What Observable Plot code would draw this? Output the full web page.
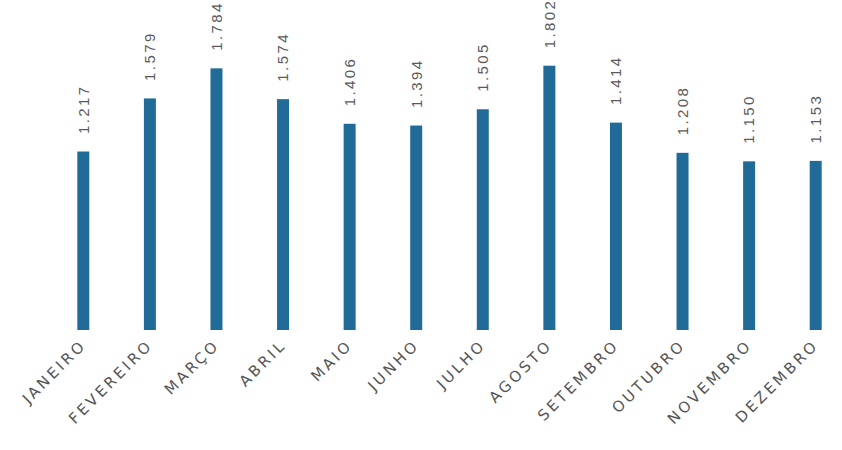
<!DOCTYPE html>
<html>
<head>
<meta charset="utf-8">
<script src="https://cdn.jsdelivr.net/npm/d3@7"></script>
<script src="https://cdn.jsdelivr.net/npm/@observablehq/plot@0.6"></script>
<style>
  html, body { margin: 0; padding: 0; background: #fff; }
  #chart svg { display: block; }
  #chart svg g[aria-label="x-axis tick label"] text {
    letter-spacing: 3px;
  }
  #chart svg g[aria-label="text"] text {
    letter-spacing: 2.4px;
  }
</style>
</head>
<body>
<div id="chart"></div>
<script>
const months = ["JANEIRO", "FEVEREIRO", "MARÇO", "ABRIL", "MAIO", "JUNHO", "JULHO", "AGOSTO", "SETEMBRO", "OUTUBRO", "NOVEMBRO", "DEZEMBRO"];
const values = [1217, 1579, 1784, 1574, 1406, 1394, 1505, 1802, 1414, 1208, 1150, 1153];

const data = months.map((m, i) => ({month: m, value: values[i]}));
const fmt = d3.formatLocale({decimal: ",", thousands: ".", grouping: [3], currency: ["R$", ""]}).format(",d");

const chart = Plot.plot({
  width: 842,
  height: 450,
  marginTop: 0,
  marginBottom: 120,
  marginLeft: 64,
  marginRight: 7,
  style: {background: "#fff"},
  x: {domain: months, paddingInner: 0.82, paddingOuter: 0.2, round: false, label: null},
  y: {domain: [0, 2250], axis: null},
  marks: [
    Plot.barY(data, {x: "month", y: "value", fill: "#206b97"}),
    Plot.text(data, {
      x: "month", y: "value", text: d => fmt(d.value),
      rotate: -90, textAnchor: "start", dy: -18,
      fontSize: 15, fill: "#5a5a5a", fontFamily: "Liberation Sans, Arial, sans-serif"
    }),
    Plot.axisX({
      tickSize: 0, tickPadding: 12, tickRotate: -45, label: null,
      fontSize: 15, fill: "#555", fontFamily: "DejaVu Sans, sans-serif"
    })
  ]
});
document.getElementById("chart").appendChild(chart);
</script>
</body>
</html>
